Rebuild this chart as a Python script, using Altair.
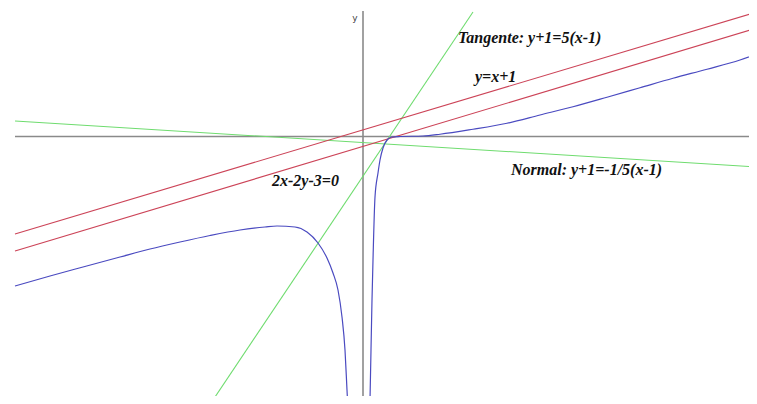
import altair as alt
import pandas as pd

# ---- data (1 unit ~ 25 px, origin at the axes crossing)
axis_x = [-13.92, 15.76]
axis_y0 = [0.0, 0.0]
yaxis_x = [0.0, 0.0]
yaxis_y = [5.02, -10.54]

normal_x = [-13.92, 15.76]
normal_y = [0.62, -1.22]
tangent_x = [-6.0, 4.4]
tangent_y = [-10.54, 4.98]
red_up_x = [-13.92, 15.76]
red_up_y = [-3.9, 4.98]
red_lo_x = [-13.92, 15.76]
red_lo_y = [-4.58, 4.34]

blue_left_x = [-13.92, -12.52, -11.2, -9.72, -8.52, -7.32, -6.12, -4.92, -3.92, -3.44,
               -2.72, -2.24, -1.8, -1.44, -1.2, -1.0, -0.84, -0.72, -0.64, -0.62]
blue_left_y = [-5.98, -5.58, -5.22, -4.82, -4.5, -4.22, -3.96, -3.74, -3.62, -3.58,
               -3.62, -3.82, -4.26, -4.86, -5.46, -6.14, -7.22, -8.54, -10.14, -10.54]
blue_right_x = [0.28, 0.32, 0.36, 0.4, 0.48, 0.6, 0.68, 0.8, 0.96, 1.16, 1.48, 2.4,
                3.08, 4.4, 5.76, 7.08, 8.4, 9.76, 11.08, 12.4, 13.76, 15.08, 15.76]
blue_right_y = [-10.54, -8.54, -6.54, -4.94, -2.42, -1.46, -0.94, -0.46, -0.14, -0.02, 0.0, 0.02,
                0.09, 0.29, 0.53, 0.86, 1.19, 1.57, 1.95, 2.33, 2.69, 3.06, 3.3]

labels = ["Tangente: y+1=5(x-1)", "y=x+1", "Normal: y+1=-1/5(x-1)", "2x-2y-3=0"]
label_x = [3.8, 4.48, 5.92, -3.64]
label_y = [3.94, 2.38, -1.34, -1.78]

x_domain = [-14.2, 15.44]
y_domain = [-10.38, 5.14]

xs = alt.Scale(domain=x_domain, nice=False, zero=False)
ys = alt.Scale(domain=y_domain, nice=False, zero=False)


def line(xv, yv, color, width=1.0, interp="linear"):
    df = pd.DataFrame({"x": xv, "y": yv, "i": range(len(xv))})
    return alt.Chart(df).mark_line(color=color, strokeWidth=width, clip=True,
                                   interpolate=interp).encode(
        x=alt.X("x:Q", scale=xs, axis=None),
        y=alt.Y("y:Q", scale=ys, axis=None),
        order="i:O",
    )


layers = [
    line(axis_x, axis_y0, "#8a8a8a", 1.6),
    line(yaxis_x, yaxis_y, "#8a8a8a", 1.6),
    line(normal_x, normal_y, "#6fdc6f", 1.1),
    line(tangent_x, tangent_y, "#6fdc6f", 1.1),
    line(red_up_x, red_up_y, "#cc4458", 1.1),
    line(red_lo_x, red_lo_y, "#cc4458", 1.1),
    line(blue_left_x, blue_left_y, "#4a4ac0", 1.2, "monotone"),
    line(blue_right_x, blue_right_y, "#4a4ac0", 1.2, "monotone"),
]

lab_df = pd.DataFrame({"t": labels, "x": label_x, "y": label_y})
texts = alt.Chart(lab_df).mark_text(
    align="left", baseline="middle", font="Liberation Serif", fontSize=16,
    fontWeight="bold", fontStyle="italic", color="#111111"
).encode(x=alt.X("x:Q", scale=xs, axis=None), y=alt.Y("y:Q", scale=ys, axis=None), text="t:N")

ylab_df = pd.DataFrame({"t": ["y"], "x": [-0.32], "y": [4.74]})
ylab = alt.Chart(ylab_df).mark_text(
    align="center", baseline="middle", font="DejaVu Sans", fontSize=9, color="#444444"
).encode(x=alt.X("x:Q", scale=xs, axis=None), y=alt.Y("y:Q", scale=ys, axis=None), text="t:N")

chart = alt.layer(*layers, texts, ylab).properties(
    width=741, height=388, padding=0,
    autosize=alt.AutoSizeParams(type="fit", contains="padding"),
).configure_view(stroke=None)

chart.save("out.html", embed_options={"renderer": "svg", "actions": False})
